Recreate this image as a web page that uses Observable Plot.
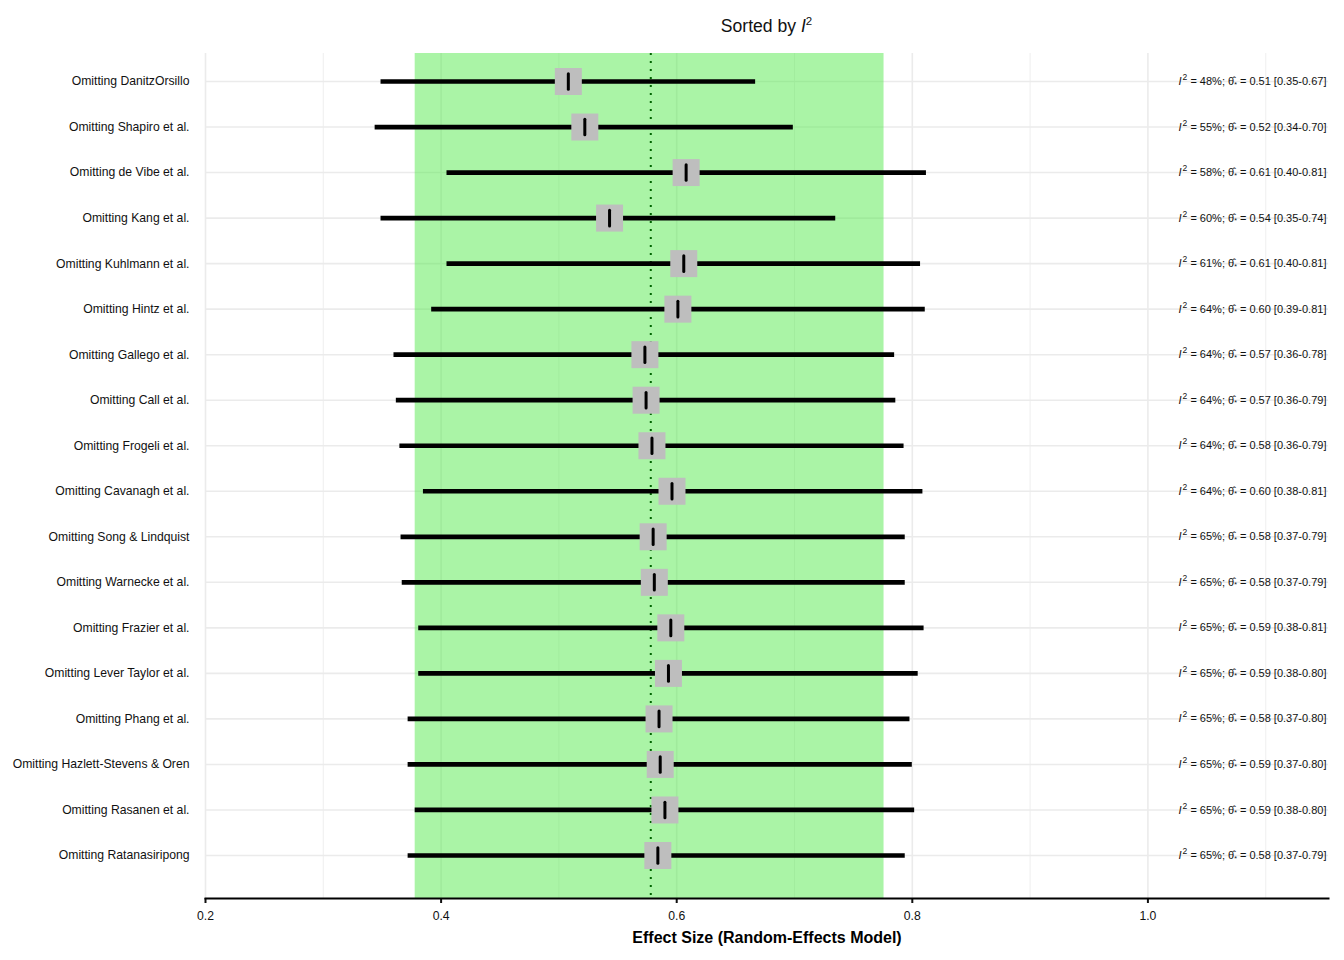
<!DOCTYPE html>
<html>
<head>
<meta charset="utf-8">
<script src="https://cdn.jsdelivr.net/npm/d3@7"></script>
<script src="https://cdn.jsdelivr.net/npm/@observablehq/plot@0.6"></script>
<style>
  html, body { margin: 0; padding: 0; background: #fff; }
  body { width: 1344px; height: 960px; font-family: "Liberation Sans", Arial, sans-serif; }
  #title { position: relative; height: 40px; width: 1344px; }
  #title span { position: absolute; left: 205px; width: 1123px; top: 16px; text-align: center; font-size: 17.6px; color: #111; }
  #chart svg { display: block; }
</style>
</head>
<body>
<div id="title"><span>Sorted by <i>I</i><sup style="font-size:11.5px;vertical-align:7px;line-height:0">2</sup></span></div>
<div id="chart"></div>
<script>
const labels = ["Omitting DanitzOrsillo", "Omitting Shapiro et al.", "Omitting de Vibe et al.", "Omitting Kang et al.", "Omitting Kuhlmann et al.", "Omitting Hintz et al.", "Omitting Gallego et al.", "Omitting Call et al.", "Omitting Frogeli et al.", "Omitting Cavanagh et al.", "Omitting Song & Lindquist", "Omitting Warnecke et al.", "Omitting Frazier et al.", "Omitting Lever Taylor et al.", "Omitting Phang et al.", "Omitting Hazlett-Stevens & Oren", "Omitting Rasanen et al.", "Omitting Ratanasiripong"];
const estimate = [0.508, 0.522, 0.608, 0.543, 0.606, 0.601, 0.573, 0.574, 0.579, 0.596, 0.580, 0.581, 0.595, 0.593, 0.585, 0.586, 0.590, 0.584];
const lower = [0.349, 0.344, 0.405, 0.349, 0.405, 0.392, 0.360, 0.362, 0.365, 0.385, 0.366, 0.367, 0.381, 0.381, 0.372, 0.372, 0.378, 0.372];
const upper = [0.667, 0.699, 0.812, 0.735, 0.807, 0.811, 0.785, 0.786, 0.793, 0.809, 0.794, 0.794, 0.810, 0.805, 0.798, 0.800, 0.802, 0.794];
const i2 = [48, 55, 58, 60, 61, 64, 64, 64, 64, 64, 65, 65, 65, 65, 65, 65, 65, 65];
const estLabel = ["0.51", "0.52", "0.61", "0.54", "0.61", "0.60", "0.57", "0.57", "0.58", "0.60", "0.58", "0.58", "0.59", "0.59", "0.58", "0.59", "0.59", "0.58"];
const ciLabel = ["[0.35-0.67]", "[0.34-0.70]", "[0.40-0.81]", "[0.35-0.74]", "[0.40-0.81]", "[0.39-0.81]", "[0.36-0.78]", "[0.36-0.79]", "[0.36-0.79]", "[0.38-0.81]", "[0.37-0.79]", "[0.37-0.79]", "[0.38-0.81]", "[0.38-0.80]", "[0.37-0.80]", "[0.37-0.80]", "[0.38-0.80]", "[0.37-0.79]"];
const pooledEstimate = 0.578;
const pooledLower = 0.378;
const pooledUpper = 0.776;
const majorTicks = [0.2, 0.4, 0.6, 0.8, 1.0];
const minorTicks = [0.3, 0.5, 0.7, 0.9, 1.1];
const xDomain = [0.2, 1.1533];

const rows = labels.map((label, i) => ({
  label, est: estimate[i], lo: lower[i], hi: upper[i],
  txt: i2[i] + "|" + estLabel[i] + "|" + ciLabel[i]
}));

const tickSymbol = {
  draw(context, size) { context.moveTo(0, -7.8); context.lineTo(0, 7.8); }
};

const plot = Plot.plot({
  width: 1344,
  height: 920,
  marginLeft: 205,
  marginRight: 16,
  marginTop: 13,
  marginBottom: 62,
  style: { fontFamily: '"Liberation Sans", Arial, sans-serif', color: "#111", background: "#fff" },
  x: { domain: xDomain, range: [205, 1328] },
  y: { type: "point", domain: labels, padding: 0, round: false, insetTop: 28, insetBottom: 43 },
  marks: [
    Plot.ruleX(majorTicks, { stroke: "#EBEBEB", strokeWidth: 1.6 }),
    Plot.ruleX(minorTicks, { stroke: "#EBEBEB", strokeWidth: 0.8 }),
    Plot.ruleY(labels, { stroke: "#EBEBEB", strokeWidth: 1.6 }),
    Plot.rectX([pooledLower], { x1: d => d, x2: () => pooledUpper, fill: "rgb(85,233,77)", fillOpacity: 0.5 }),
    Plot.ruleX([pooledEstimate], { stroke: "#006400", strokeWidth: 2, strokeDasharray: "2,6" }),
    Plot.ruleY(rows, { y: "label", x1: "lo", x2: "hi", stroke: "#000", strokeWidth: 4.7 }),
    Plot.dot(rows, { x: "est", y: "label", symbol: "square", r: 15.23, fill: "#BEBEBE", stroke: null }),
    Plot.dot(rows, { x: "est", y: "label", symbol: tickSymbol, r: 5, fill: "none", stroke: "#000", strokeWidth: 3, strokeLinecap: "round" }),
    Plot.text(rows, { x: () => 1.026, y: "label", text: "txt", textAnchor: "start", fontSize: 11, fill: "#111" }),
    Plot.axisY({ tickSize: 0, tickPadding: 16, fontSize: 12.2, label: null }),
    Plot.axisX({ ticks: majorTicks, tickFormat: d3.format(".1f"), tickSize: 5, strokeWidth: 2, tickPadding: 8, fontSize: 12.2,
      label: "Effect Size (Random-Effects Model)", labelAnchor: "center", labelArrow: "none", labelOffset: 44 }),
    Plot.frame({ anchor: "bottom", stroke: "#000", strokeWidth: 2 })
  ]
});

document.getElementById("chart").appendChild(plot);

// axis label styling
d3.select(plot).selectAll("g[aria-label='x-axis label'] text")
  .attr("font-size", 16).attr("font-weight", "bold").attr("fill", "#000");

// rich text for right-hand labels
d3.select(plot).selectAll("text").each(function() {
  const t = this.textContent;
  if (!t || t.split("|").length !== 3) return;
  const [pct, est, ci] = t.split("|");
  const el = d3.select(this);
  el.text(null);
  el.append("tspan").attr("font-style", "italic").text("I");
  el.append("tspan").attr("font-size", 8.5).attr("dx", 1).attr("dy", -5).text("2");
  el.append("tspan").attr("dy", 5).text(" = " + pct + "%; ");
  el.append("tspan").text("\u03B8\u0302");
  el.append("tspan").attr("font-size", 7).attr("dy", 1.5).text("*");
  el.append("tspan").attr("dy", -1.5).text(" = " + est + " " + ci);
});
</script>
</body>
</html>
